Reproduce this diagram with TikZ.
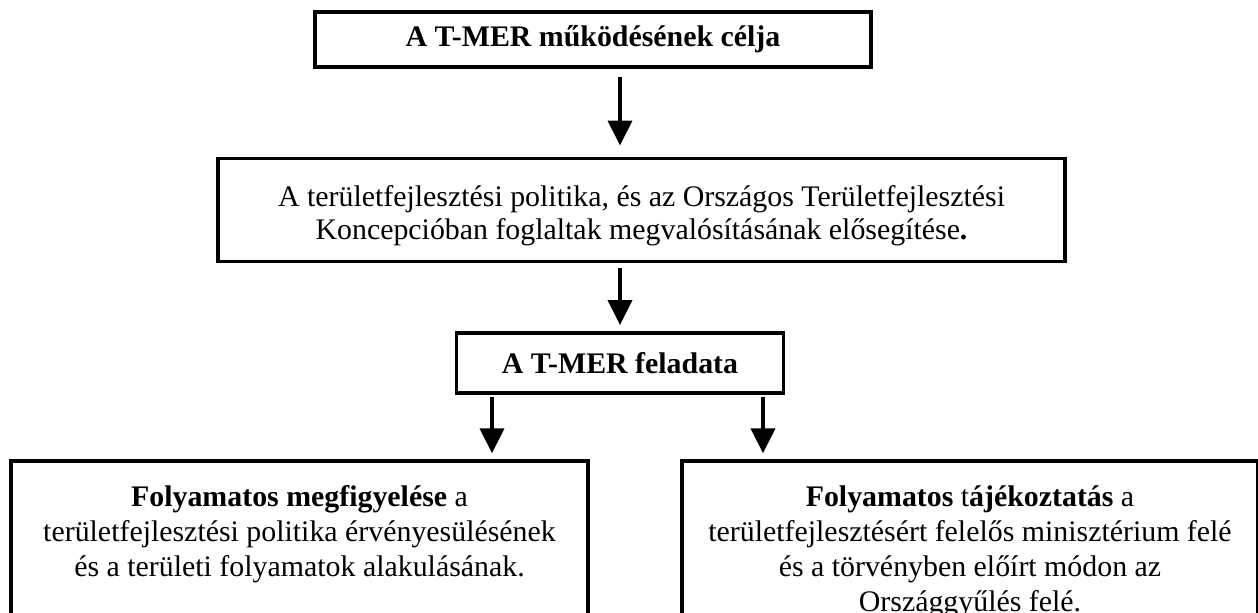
\documentclass[tikz,border=0pt]{standalone}
\usepackage{fontspec}
\setmainfont{Liberation Serif}
\usetikzlibrary{arrows.meta}

\tikzset{every picture/.style={line width=0.75pt}}
\tikzset{
frame/.style={draw, line width=2.5pt, align=center, inner sep=0pt, font=\fontsize{22.4}{25}\selectfont},
openframe/.style={frame, anchor=north, inner ysep=18.5pt, text depth=300pt, font=\fontsize{22.4}{26.25}\selectfont},
down/.style={line width=3pt, -{Triangle[width=18pt,length=18.75pt]}}}

\begin{document}
\begin{tikzpicture}[x=0.75pt,y=0.75pt,yscale=-1,xscale=1]
\useasboundingbox (0,0) rectangle (1258,612);
\clip (0,0) rectangle (1258,612); %lower boxes run past the bottom edge

%Shape: Rectangle [goal]
\node[frame, minimum width=417pt, minimum height=41.25pt] (goal) at (593,39.5) {\textbf{A T-MER működésének célja}};
%Shape: Rectangle [support]
\node[frame, minimum width=635.25pt, minimum height=77.25pt, text height=49.5pt] (support) at (641.5,210) {A területfejlesztési politika, és az Országos Területfejlesztési\\ Koncepcióban foglaltak megvalósításának elősegítése\textbf{.}};
%Shape: Rectangle [task]
\node[frame, minimum width=245.25pt, minimum height=45pt] (task) at (620,363) {\textbf{A T-MER feladata}};
%Shape: Rectangle [monitor]
\node[openframe, minimum width=432.75pt] (monitor) at (299.5,459.3) {\textbf{Folyamatos megfigyelése} a\\ területfejlesztési politika érvényesülésének\\ és a területi folyamatok alakulásának.};
%Shape: Rectangle [inform]
\node[openframe, minimum width=432pt] (inform) at (970,459.3) {\textbf{Folyamatos} t\textbf{ájékoztatás} a\\ területfejlesztésért felelős minisztérium felé\\ és a törvényben előírt módon az\\ Országgyűlés felé.};

\coordinate (splitL) at (492,0);
\coordinate (splitR) at (763,0);

%Straight Lines [goal -> support]
\draw[down, shorten <=6.2pt, shorten >=8.5pt] (goal.south -| task.north) -- (support.north -| task.north);
%Straight Lines [support -> task]
\draw[down, shorten <=3.5pt, shorten >=4.75pt] (support.south -| task.north) -- (task.north);
%Straight Lines [task -> monitor]
\draw[down, shorten <=1.7pt, shorten >=4.5pt] (task.south -| splitL) -- (monitor.north -| splitL);
%Straight Lines [task -> inform]
\draw[down, shorten <=1.7pt, shorten >=4.5pt] (task.south -| splitR) -- (inform.north -| splitR);
\end{tikzpicture}
\end{document}
